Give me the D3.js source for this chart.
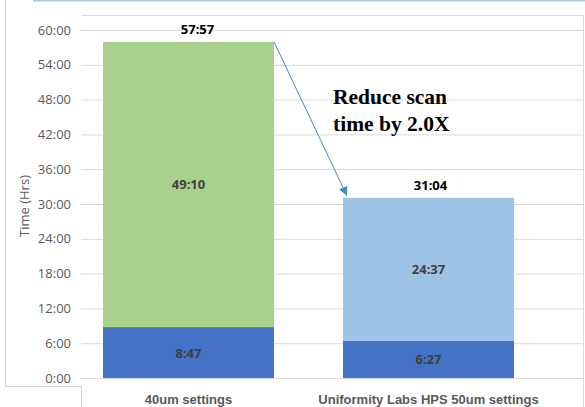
<!DOCTYPE html>
<html>
<head>
<meta charset="utf-8">
<script src="https://cdn.jsdelivr.net/npm/d3@7"></script>
<style>
  html, body { margin: 0; padding: 0; background: #fff; }
  svg { display: block; }
</style>
</head>
<body>
<div id="chart"></div>
<script>
// values in hours, labels as shown
const categories = ['40um settings', 'Uniformity Labs HPS 50um settings']
const baseHours = [8 + 47 / 60, 6 + 27 / 60]
const topHours = [49 + 10 / 60, 24 + 37 / 60]
const baseLabels = ['8:47', '6:27']
const topLabels = ['49:10', '24:37']
const totalLabels = ['57:57', '31:04']
const yTicks = [0, 6, 12, 18, 24, 30, 36, 42, 48, 54, 60]

const topColors = ['#a9d18e', '#9dc3e6']
const baseColor = '#4472c4'

const W = 585, H = 407

const svg = d3.select('#chart').append('svg')
    .attr('width', W).attr('height', H)

const x = d3.scaleBand()
    .domain(categories)
    .range([68.5, 548.5])
    .paddingInner(0.2875)
    .paddingOuter(0.14375)

const y = d3.scaleLinear()
    .domain([0, 60])
    .range([378, 30])

const fmt = h => Math.round(h) + ':00'

// frame bits from the screenshot
svg.append('line').attr('x1', 33).attr('x2', W).attr('y1', 0.5).attr('y2', 0.5)
    .attr('stroke', '#a6cbe3').attr('stroke-width', 2)
svg.append('path')
    .attr('d', 'M5.5,0 V386.5 H81.5 V407')
    .attr('fill', 'none').attr('stroke', '#d0d0d0')
svg.append('path')
    .attr('d', 'M81.5,15.5 H583.5 V407')
    .attr('fill', 'none').attr('stroke', '#d9d9d9')

// gridlines + tick labels
const yAxis = d3.axisLeft(y)
    .tickValues(yTicks)
    .tickFormat(fmt)
    .tickSize(-(583 - 81))
    .tickPadding(10)

const ga = svg.append('g')
    .attr('transform', 'translate(81,0)')
    .call(yAxis)
ga.select('.domain').remove()
ga.selectAll('.tick line').attr('stroke', '#d9d9d9')
ga.selectAll('.tick text')
    .attr('fill', '#595959')
    .style('font', '13px "Open Sans", sans-serif')

svg.append('text')
    .attr('transform', 'translate(29,206) rotate(-90)')
    .attr('text-anchor', 'middle')
    .attr('fill', '#595959')
    .style('font', '13px "Open Sans", sans-serif')
    .text('Time (Hrs)')

// bars
const bars = svg.append('g')
bars.selectAll('rect.base')
    .data(categories)
    .join('rect')
    .attr('class', 'base')
    .attr('x', d => x(d))
    .attr('width', x.bandwidth())
    .attr('y', (d, i) => y(baseHours[i]))
    .attr('height', (d, i) => y(0) - y(baseHours[i]))
    .attr('fill', baseColor)

bars.selectAll('rect.top')
    .data(categories)
    .join('rect')
    .attr('class', 'top')
    .attr('x', d => x(d))
    .attr('width', x.bandwidth())
    .attr('y', (d, i) => y(baseHours[i] + topHours[i]))
    .attr('height', (d, i) => y(baseHours[i]) - y(baseHours[i] + topHours[i]))
    .attr('fill', (d, i) => topColors[i])

const lblFont = 'bold 13px "Open Sans", sans-serif'
const catFont = 'bold 13px "Liberation Sans", Arial, sans-serif'
const cx = d => x(d) + x.bandwidth() / 2

svg.selectAll('text.baseLbl')
    .data(categories)
    .join('text')
    .attr('x', cx)
    .attr('y', (d, i) => y(baseHours[i] / 2) + 5)
    .attr('text-anchor', 'middle')
    .attr('fill', '#404040')
    .style('font', lblFont)
    .text((d, i) => baseLabels[i])

svg.selectAll('text.topLbl')
    .data(categories)
    .join('text')
    .attr('x', cx)
    .attr('y', (d, i) => y(baseHours[i] + topHours[i] / 2) + 5)
    .attr('text-anchor', 'middle')
    .attr('fill', '#404040')
    .style('font', lblFont)
    .text((d, i) => topLabels[i])

const totalShift = [9, 2]
svg.selectAll('text.totLbl')
    .data(categories)
    .join('text')
    .attr('x', (d, i) => cx(d) + totalShift[i])
    .attr('y', (d, i) => y(baseHours[i] + topHours[i]) - 8)
    .attr('text-anchor', 'middle')
    .attr('fill', '#000')
    .style('font', lblFont)
    .text((d, i) => totalLabels[i])

// category labels
svg.selectAll('text.cat')
    .data(categories)
    .join('text')
    .attr('x', cx)
    .attr('y', 404)
    .attr('text-anchor', 'middle')
    .attr('fill', '#595959')
    .style('font', catFont)
    .text(d => d)

// arrow between bar tops
svg.append('defs').append('marker')
    .attr('id', 'arrow')
    .attr('viewBox', '0 0 10 10')
    .attr('refX', 10).attr('refY', 5)
    .attr('markerWidth', 9).attr('markerHeight', 9)
    .attr('orient', 'auto')
    .append('path').attr('d', 'M0,0 L10,5 L0,10 z').attr('fill', '#3a8dc0')

const x0 = x(categories[0]) + x.bandwidth()
const y0 = y(baseHours[0] + topHours[0])
svg.append('line')
    .attr('x1', x0).attr('y1', y0)
    .attr('x2', x(categories[1]) + 4).attr('y2', y(baseHours[1] + topHours[1]) - 2)
    .attr('stroke', '#3a8dc0').attr('stroke-width', 1)
    .attr('marker-end', 'url(#arrow)')

// annotation
const note = svg.append('text')
    .attr('fill', '#000')
    .style('font', 'bold 21.5px "Liberation Serif", "Times New Roman", serif')
note.append('tspan').attr('x', 333).attr('y', 104).text('Reduce scan')
note.append('tspan').attr('x', 333).attr('y', 131).text('time by 2.0X')
</script>
</body>
</html>
